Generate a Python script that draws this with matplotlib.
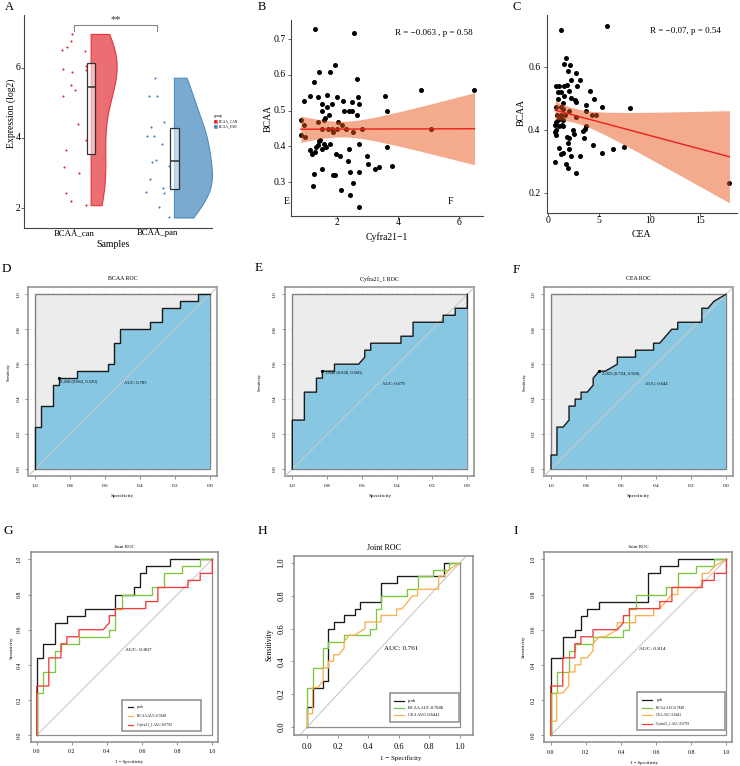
import numpy as np
import matplotlib
matplotlib.use('Agg')
import matplotlib.pyplot as plt
import matplotlib.transforms as mtrans
from matplotlib.patches import Patch, Polygon, Rectangle
from matplotlib.lines import Line2D

plt.rcParams['font.family'] = ['Liberation Serif', 'DejaVu Serif']

# ======================= DATA =======================
# Panel A
a_categories = ['BCAA_can', 'BCAA_pan']
a_legend_labels = ['BCAA_CAN', 'BCAA_PAN']
can_x = [0.976, 0.964, 0.92, 0.852, 1.136, 1.144, 1.144, 0.872, 0.98, 0.96,
         1.012, 0.872, 1.048, 1.144, 0.90, 0.88, 1.056, 0.904, 0.964, 1.144]
can_y = [6.97, 6.78, 6.59, 6.50, 6.47, 6.05, 5.95, 5.98, 5.88, 5.52,
         5.38, 5.19, 4.40, 3.94, 3.66, 3.18, 3.00, 2.42, 2.19, 2.08]
pan_x = [1.976, 1.90, 1.993, 2.077, 1.921, 1.873, 1.957, 2.053, 1.985, 1.933,
         2.144, 1.912, 2.149, 2.065, 1.861, 2.084, 2.02, 2.137]
pan_y = [5.72, 5.19, 5.19, 4.45, 4.30, 4.07, 4.05, 3.84, 3.38, 3.32,
         3.19, 2.83, 2.64, 2.56, 2.45, 2.42, 2.02, 1.73]
box_q1 = [3.55, 2.55]
box_med = [5.45, 3.35]
box_q3 = [6.15, 4.28]
a_yticks = [2, 4, 6]
sig_label = '**'

# Panel B
cyfra = [1.27, 2.54, 1.93, 1.40, 1.75, 1.23, 2.63, 0.90, 1.09, 1.36,
         1.66, 1.99, 1.51, 1.81, 1.67, 2.20, 2.49, 2.68, 2.71, 1.49,
         2.22, 2.39, 2.49, 2.63, 1.73, 3.64, 3.58, 1.61, 1.56, 0.80,
         0.91, 1.38, 2.02, 2.15, 1.49, 1.68, 1.84, 1.98, 2.30, 2.82,
         5.07, 1.85, 2.52, 0.81, 0.93, 1.44, 1.40, 1.35, 1.30, 1.57,
         1.76, 1.62, 1.51, 1.10, 1.26, 1.17, 2.71, 2.38, 3.62, 1.96,
         2.09, 2.97, 2.34, 3.02, 3.79, 3.23, 3.37, 1.49, 1.22, 1.86,
         1.92, 2.42, 2.72, 2.51, 1.21, 2.12, 2.43, 2.72, 6.50, 4.76]
bcaa_b = [0.729, 0.718, 0.629, 0.607, 0.609, 0.579, 0.589, 0.528, 0.541, 0.538,
          0.543, 0.538, 0.520, 0.520, 0.509, 0.526, 0.524, 0.538, 0.520, 0.498,
          0.499, 0.498, 0.498, 0.489, 0.488, 0.499, 0.540, 0.480, 0.475, 0.473,
          0.459, 0.468, 0.467, 0.459, 0.450, 0.450, 0.450, 0.450, 0.450, 0.450,
          0.450, 0.440, 0.439, 0.431, 0.427, 0.419, 0.416, 0.404, 0.398, 0.408,
          0.408, 0.399, 0.394, 0.390, 0.385, 0.379, 0.408, 0.393, 0.399, 0.379,
          0.374, 0.373, 0.358, 0.350, 0.346, 0.338, 0.343, 0.338, 0.322, 0.319,
          0.319, 0.328, 0.328, 0.298, 0.289, 0.279, 0.264, 0.229, 0.558, 0.558]
b_stat = 'R = \u22120.063 , p = 0.58'
b_xticks = [2, 4, 6]
b_yticks = [0.3, 0.4, 0.5, 0.6, 0.7]

# Panel C
cea = [1.34, 5.82, 1.80, 1.57, 2.16, 1.96, 2.78, 3.17, 2.29, 1.86,
       1.63, 1.11, 0.78, 0.98, 1.34, 2.12, 2.88, 4.18, 1.60, 0.98,
       2.25, 2.65, 2.75, 4.51, 1.54, 5.36, 8.04, 3.79, 1.34, 1.50,
       0.85, 2.09, 3.79, 0.95, 1.34, 1.73, 4.35, 4.77, 2.81, 1.31,
       1.01, 1.50, 0.82, 1.37, 0.72, 1.08, 1.54, 3.79, 3.63, 2.52,
       3.46, 2.58, 0.78, 0.85, 0.75, 1.86, 2.09, 3.53, 1.96, 4.41,
       1.11, 2.09, 6.44, 7.45, 5.33, 1.50, 1.27, 2.32, 3.20, 0.75,
       1.76, 1.99, 2.81, 17.84]
bcaa_c = [0.719, 0.729, 0.629, 0.609, 0.608, 0.589, 0.580, 0.559, 0.559, 0.543,
          0.540, 0.541, 0.540, 0.522, 0.522, 0.524, 0.540, 0.525, 0.509, 0.499,
          0.501, 0.496, 0.491, 0.499, 0.487, 0.474, 0.469, 0.479, 0.475, 0.468,
          0.475, 0.460, 0.460, 0.448, 0.448, 0.448, 0.448, 0.448, 0.441, 0.438,
          0.431, 0.433, 0.425, 0.417, 0.417, 0.412, 0.412, 0.412, 0.404, 0.401,
          0.397, 0.389, 0.400, 0.385, 0.393, 0.379, 0.376, 0.377, 0.360, 0.352,
          0.344, 0.340, 0.340, 0.347, 0.329, 0.329, 0.326, 0.320, 0.320, 0.300,
          0.292, 0.282, 0.265, 0.232]
c_stat = 'R = \u22120.07, p = 0.54'
c_xticks = [0, 5, 10, 15]
c_yticks = [0.2, 0.4, 0.6]

# ROC curves (false positive rate, true positive rate)
roc_ticks = [0.0, 0.2, 0.4, 0.6, 0.8, 1.0]
bcaa_fpr = [0, 0, 0.034, 0.034, 0.103, 0.103, 0.138, 0.138, 0.241, 0.241, 0.414, 0.414, 0.448,
            0.448, 0.483, 0.483, 0.655, 0.655, 0.724, 0.724, 0.828, 0.828, 0.931, 0.931, 1.0]
bcaa_tpr = [0, 0.24, 0.24, 0.36, 0.36, 0.48, 0.48, 0.52, 0.52, 0.56, 0.56, 0.60, 0.60,
            0.72, 0.72, 0.80, 0.80, 0.84, 0.84, 0.92, 0.92, 0.96, 0.96, 1.0, 1.0]
cyfra_fpr = [0, 0, 0.069, 0.069, 0.138, 0.138, 0.172, 0.172, 0.241, 0.241, 0.379, 0.414, 0.414,
             0.448, 0.448, 0.621, 0.621, 0.690, 0.690, 0.862, 0.862, 0.931, 0.931, 1.0, 1.0]
cyfra_tpr = [0, 0.28, 0.28, 0.44, 0.44, 0.52, 0.52, 0.56, 0.56, 0.60, 0.60, 0.64, 0.68,
             0.68, 0.72, 0.72, 0.76, 0.76, 0.84, 0.84, 0.88, 0.88, 0.92, 0.92, 1.0]
cea_fpr = [0, 0, 0.034, 0.034, 0.069, 0.103, 0.103, 0.138, 0.138, 0.172, 0.172, 0.207, 0.241,
           0.241, 0.276, 0.310, 0.379, 0.379, 0.483, 0.483, 0.586, 0.586, 0.621, 0.690, 0.724,
           0.724, 0.862, 0.862, 0.897, 0.931, 1.0]
cea_tpr = [0, 0.08, 0.08, 0.24, 0.24, 0.28, 0.36, 0.36, 0.40, 0.40, 0.44, 0.44, 0.48,
           0.52, 0.56, 0.56, 0.60, 0.64, 0.64, 0.68, 0.68, 0.72, 0.72, 0.80, 0.80,
           0.84, 0.84, 0.92, 0.92, 0.96, 1.0]
jointG_fpr = [0, 0, 0.034, 0.034, 0.103, 0.103, 0.172, 0.172, 0.276, 0.276, 0.448, 0.448, 0.552,
              0.552, 0.586, 0.586, 0.621, 0.621, 0.759, 0.759, 1.0]
jointG_tpr = [0, 0.44, 0.44, 0.52, 0.52, 0.64, 0.64, 0.68, 0.68, 0.72, 0.72, 0.80, 0.80,
              0.84, 0.84, 0.92, 0.92, 0.96, 0.96, 1.0, 1.0]
jointH_fpr = [0, 0, 0.034, 0.034, 0.103, 0.103, 0.138, 0.138, 0.172, 0.172, 0.241, 0.241, 0.310,
              0.310, 0.345, 0.345, 0.483, 0.483, 0.586, 0.586, 0.897, 0.897, 1.0]
jointH_tpr = [0, 0.12, 0.12, 0.24, 0.24, 0.28, 0.28, 0.60, 0.60, 0.64, 0.64, 0.68, 0.68,
              0.72, 0.72, 0.76, 0.76, 0.88, 0.88, 0.92, 0.92, 1.0, 1.0]
jointI_fpr = [0, 0, 0.069, 0.069, 0.138, 0.138, 0.172, 0.172, 0.207, 0.207, 0.276, 0.276, 0.552,
              0.552, 0.621, 0.621, 0.724, 0.724, 1.0]
jointI_tpr = [0, 0.44, 0.44, 0.56, 0.56, 0.60, 0.60, 0.68, 0.68, 0.72, 0.72, 0.76, 0.76,
              0.92, 0.92, 0.96, 0.96, 1.0, 1.0]

single_titles = ['BCAA ROC', 'Cyfra21_1 ROC', 'CEA ROC']
thr_labels = ['0.450 (0.862, 0.520)', '1.840 (0.828, 0.560)', '2.025 (0.724, 0.560)']
thr_spec = [0.862, 0.828, 0.724]
thr_sens = [0.520, 0.560, 0.560]
single_auc = ['AUC: 0.785', 'AUC: 0.679', 'AUC: 0.644']
joint_auc = ['AUC: 0.807', 'AUC: 0.761', 'AUC: 0.814']
legG_labels = ['prob', 'BCAA AUC:0.7848', 'Cyfra21_1 AUC:0.6793']
legH_labels = ['prob', 'BCAA AUC:0.7848', 'CEA AUC:0.6441']
legI_labels = ['prob', 'BCAA AUC:0.7848', 'CEA AUC:0.6441', 'Cyfra21_1 AUC:0.6793']

# ======================= STYLE / LAYOUT =======================
W, H = 740, 766
fig = plt.figure(figsize=(7.4, 7.66), dpi=100)

C_BLACK = '#1a1a1a'
C_GREEN = '#7DC740'
C_ORANGE = '#FBB04E'
C_RED = '#F03C3C'
FRAME = '#8c8c8c'


def add_ax(x0, y0, x1, y1):
    return fig.add_axes([x0 / W, 1 - y1 / H, (x1 - x0) / W, (y1 - y0) / H])


def ptext(x, y, s, **kw):
    kw.setdefault('ha', 'center')
    kw.setdefault('va', 'center')
    fig.text(x / W, 1 - y / H, s, **kw)


def xtick_labels(ax, ticks, labels, y_px, fs):
    tr = mtrans.blended_transform_factory(ax.transData, fig.transFigure)
    for t, l in zip(ticks, labels):
        ax.text(t, 1 - y_px / H, l, transform=tr, ha='center', va='center',
                fontsize=fs, clip_on=False)


def ytick_labels(ax, ticks, labels, x_px, fs, rotation=0, ha='center'):
    tr = mtrans.blended_transform_factory(fig.transFigure, ax.transData)
    for t, l in zip(ticks, labels):
        ax.text(x_px / W, t, l, transform=tr, ha=ha, va='center',
                fontsize=fs, rotation=rotation, clip_on=False)


# ---------------- Panel A ----------------
axA = add_ax(24, 15, 212, 228)
axA.set_xlim(0.4, 2.657)
axA.set_ylim(1.43, 7.51)
vp = axA.violinplot([can_y, pan_y], positions=[1.2, 2.2], widths=[0.624, 0.912],
                    side='high', showextrema=False)
for body, fc, ec in zip(vp['bodies'], ['#EB6E72', '#7AAAD0'], ['#E0353A', '#4F8CC0']):
    body.set_facecolor(fc)
    body.set_edgecolor(ec)
    body.set_alpha(1)
    body.set_linewidth(0.8)
stats = [dict(med=m, q1=a, q3=b, whislo=a, whishi=b)
         for m, a, b in zip(box_med, box_q1, box_q3)]
axA.bxp(stats, positions=[1.205, 2.205], widths=0.105, showfliers=False,
        showcaps=False, patch_artist=True,
        boxprops=dict(facecolor=(1, 1, 1, 0.55), edgecolor='#333333', linewidth=0.9),
        medianprops=dict(color='#333333', linewidth=1.1),
        whiskerprops=dict(linewidth=0))
axA.scatter(can_x, can_y, s=2.2, color='#E41A1C', zorder=4, linewidths=0)
axA.scatter(pan_x, pan_y, s=2.2, color='#377EB8', zorder=4, linewidths=0)
axA.plot([1, 1, 2, 2], [7.04, 7.22, 7.22, 7.04], color='#888888', lw=0.8)
axA.text(1.5, 7.24, sig_label, ha='center', va='bottom', fontsize=7.5, color='#333333')
for s in ['top', 'right']:
    axA.spines[s].set_visible(False)
for s in ['left', 'bottom']:
    axA.spines[s].set_color('#444444')
    axA.spines[s].set_linewidth(0.8)
axA.set_xticks([1, 2])
axA.set_yticks(a_yticks)
axA.tick_params(labelbottom=False, labelleft=False, length=2.5, width=0.6, color='#444444')
xtick_labels(axA, [1, 2], a_categories, 233.3, 6.3)
ytick_labels(axA, a_yticks, [str(t) for t in a_yticks], 20.5, 7, ha='right')
ptext(113, 244.5, 'Samples', fontsize=7)
ptext(11.5, 113, 'Expression (log2)', fontsize=7, rotation=90)
handles = [(Patch(facecolor='#EB6E72', edgecolor='#E0353A', lw=0.4),
            Line2D([], [], marker='o', ls='', color='#E41A1C', ms=1)),
           (Patch(facecolor='#7AAAD0', edgecolor='#4F8CC0', lw=0.4),
            Line2D([], [], marker='o', ls='', color='#377EB8', ms=1))]
leg = axA.legend(handles, a_legend_labels, title='group', fontsize=2.6, title_fontsize=2.8,
                 loc='center left', bbox_to_anchor=(0.995, 0.5), frameon=False,
                 handlelength=1.0, handleheight=1.0, handletextpad=0.4, labelspacing=0.3,
                 borderpad=0.2)
leg._legend_box.align = 'left'
ptext(9, 7, 'A', fontsize=9)


# ---------------- Panels B, C ----------------
def scatter_fit(ax, x, y, xticks, yticks, xtick_y, ytick_x, stat, stat_pos):
    x = np.asarray(x, float)
    y = np.asarray(y, float)
    ax.scatter(x, y, s=13, color='black', zorder=2, linewidths=0)
    slope, icpt = np.polyfit(x, y, 1)
    xs = np.linspace(x.min(), x.max(), 200)
    yhat = icpt + slope * xs
    n = len(x)
    resid = y - (icpt + slope * x)
    s = np.sqrt(np.sum(resid ** 2) / (n - 2))
    sxx = np.sum((x - x.mean()) ** 2)
    se = s * np.sqrt(1.0 / n + (xs - x.mean()) ** 2 / sxx)
    tq = 1.99
    ax.fill_between(xs, yhat - tq * se, yhat + tq * se, color='#E9561C', alpha=0.5,
                    linewidth=0, zorder=3)
    ax.plot(xs, yhat, color='#E8201C', lw=1.0, zorder=4)
    for sname in ['top', 'right']:
        ax.spines[sname].set_visible(False)
    for sname in ['left', 'bottom']:
        ax.spines[sname].set_color('#444444')
        ax.spines[sname].set_linewidth(0.8)
    ax.set_xticks(xticks)
    ax.set_yticks(yticks)
    ax.tick_params(labelbottom=False, labelleft=False, length=2.5, width=0.6, color='#444444')
    xtick_labels(ax, xticks, [str(t) for t in xticks], xtick_y, 7)
    ytick_labels(ax, yticks, [f'{t:.1f}' for t in yticks], ytick_x, 7, ha='right')
    ax.text(stat_pos[0], stat_pos[1], stat, transform=ax.transAxes, ha='center', va='center',
            fontsize=6.5)


axB = add_ax(290.7, 20, 483, 216)
axB.set_xlim(0.47, 6.78)
axB.set_ylim(0.205, 0.754)
scatter_fit(axB, cyfra, bcaa_b, b_xticks, b_yticks, 222.7, 285.5, b_stat, (0.742, 0.932))
ptext(386.7, 237.5, 'Cyfra21\u22121', fontsize=7)
ptext(268.5, 118, 'BCAA', fontsize=7, rotation=90)
ptext(287, 201, 'E', fontsize=7)
ptext(450.7, 201, 'F', fontsize=7)
ptext(262, 7, 'B', fontsize=9)

axC = add_ax(547.3, 15, 736.7, 213.3)
axC.set_xlim(-0.05, 18.56)
axC.set_ylim(0.137, 0.765)
scatter_fit(axC, cea, bcaa_c, c_xticks, c_yticks, 220.7, 540.5, c_stat, (0.727, 0.919))
ptext(641.7, 234.5, 'CEA', fontsize=7)
ptext(521.5, 113, 'BCAA', fontsize=7, rotation=90)
ptext(517, 7, 'C', fontsize=9)


# ---------------- Panels D, E, F ----------------
def frame_style(ax, tick_len=2.0):
    for sp in ax.spines.values():
        sp.set_color(FRAME)
        sp.set_linewidth(1.1)
    ax.set_xticks(roc_ticks)
    ax.set_yticks(roc_ticks)
    ax.tick_params(labelbottom=False, labelleft=False, length=tick_len, width=0.5,
                   color='#666666', direction='out')


def single_roc(box, fpr, tpr, title, thr_lab, ts, tsens, thr_txt_pos, auc_lab, auc_pos,
               ytick_x, ylab_pos, xlab_pos, letter, letter_pos):
    ax = add_ax(*box)
    ax.set_xlim(1.04, -0.04)
    ax.set_ylim(-0.04, 1.04)
    frame_style(ax)
    for g in [0.1, 0.2, 0.3, 0.4, 0.5, 0.6, 0.7, 0.8, 0.9]:
        ax.axvline(g, color='#EDE6C4', lw=0.5, ls=(0, (1.5, 2)), zorder=0)
    for g in [0.2, 0.4, 0.6, 0.8]:
        ax.axhline(g, color='#F4C6C6', lw=0.5, ls=(0, (1.5, 2)), zorder=0)
    ax.add_patch(Polygon([(1, 0), (1, 1), (0, 1), (0, 0)], closed=True,
                         facecolor='#ECECEC', edgecolor='#808080', lw=1.0, zorder=1))
    spec = 1 - np.asarray(fpr)
    sens = np.asarray(tpr)
    verts = list(zip(spec, sens)) + [(0, 0)]
    ax.add_patch(Polygon(verts, closed=True, facecolor='#88C7E2', edgecolor='none', zorder=2))
    ax.plot([1.06, -0.06], [-0.06, 1.06], color='#C9C9C9', lw=0.8, zorder=3)
    ax.plot(spec, sens, color=C_BLACK, lw=1.0, zorder=4)
    ax.plot([ts], [tsens], 'o', ms=1.3, color='black', zorder=5)
    ax.text(thr_txt_pos[0], thr_txt_pos[1], thr_lab, ha='left', va='center', fontsize=3.3, zorder=6)
    ax.text(auc_pos[0], auc_pos[1], auc_lab, ha='center', va='center', fontsize=3.3, zorder=6)
    xtick_labels(ax, roc_ticks, [f'{t:.1f}' for t in roc_ticks], 486, 3.8)
    ytick_labels(ax, roc_ticks, [f'{t:.1f}' for t in roc_ticks], ytick_x, 3.8, rotation=90)
    cx = (box[0] + box[2]) / 2
    ptext(cx, 279, title, fontsize=4.2)
    ptext(xlab_pos[0], xlab_pos[1], 'Specificity', fontsize=3.8)
    ptext(ylab_pos[0], ylab_pos[1], 'Sensitivity', fontsize=3.1, rotation=90)
    ptext(letter_pos[0], letter_pos[1], letter, fontsize=9.5)
    return ax


single_roc((28.3, 287.3, 217.3, 476), bcaa_fpr, bcaa_tpr, single_titles[0], thr_labels[0],
           thr_spec[0], thr_sens[0], (0.857, 0.50), single_auc[0], (0.43, 0.49),
           18.3, (9, 372), (122.7, 496), 'D', (6, 269))
single_roc((285.3, 287.3, 474.3, 476), cyfra_fpr, cyfra_tpr, single_titles[1], thr_labels[1],
           thr_spec[1], thr_sens[1], (0.813, 0.548), single_auc[1], (0.42, 0.487),
           275, (260, 381.7), (379.8, 496), 'E', (259, 268))
single_roc((544, 287.3, 733, 476), cea_fpr, cea_tpr, single_titles[2], thr_labels[2],
           thr_spec[2], thr_sens[2], (0.707, 0.544), single_auc[2], (0.396, 0.487),
           533.3, (525, 381.7), (638.5, 496), 'F', (516.7, 270))


# ---------------- Panels G, H, I ----------------
def joint_roc(box, xlim, ylim, curves, colors, auc_lab, auc_pos, auc_fs, title_y, title_fs,
              tick_fs, xtick_y, ytick_x, xlab_pos, ylab_pos, lab_fs, ylab_fs, leg_box, leg_y,
              leg_line_x, leg_text_x, leg_labels, leg_colors, leg_fs, letter, letter_pos,
              diag_ext=False):
    ax = add_ax(*box)
    ax.set_xlim(*xlim)
    ax.set_ylim(*ylim)
    frame_style(ax, tick_len=2.2)
    if diag_ext:
        ax.plot([-0.2, 1.2], [-0.2, 1.2], color='#C9C9C9', lw=0.8, zorder=1)
    else:
        ax.plot([0, 1], [0, 1], color='#C9C9C9', lw=0.8, zorder=1)
    ax.plot([0, 1, 1], [0, 0, 1], color='#8f8f8f', lw=0.9, zorder=1)
    for (fx, ty), col in zip(curves, colors):
        ax.plot(fx, ty, color=col, lw=0.95, zorder=3)
    ax.text(auc_pos[0], auc_pos[1], auc_lab, ha='center', va='center', fontsize=auc_fs)
    x0, x1, y0, y1 = leg_box
    ax.add_patch(Rectangle((x0, y0), x1 - x0, y1 - y0, fill=True, facecolor='white',
                           edgecolor=FRAME, lw=1.1, zorder=5))
    for yy, lab, col in zip(leg_y, leg_labels, leg_colors):
        ax.plot(leg_line_x, [yy, yy], color=col, lw=0.9, zorder=6)
        ax.text(leg_text_x, yy, lab, ha='left', va='center', fontsize=leg_fs, zorder=6)
    xtick_labels(ax, roc_ticks, [f'{t:.1f}' for t in roc_ticks], xtick_y, tick_fs)
    ytick_labels(ax, roc_ticks, [f'{t:.1f}' for t in roc_ticks], ytick_x, tick_fs, rotation=90)
    ptext((box[0] + box[2]) / 2, title_y, 'Joint ROC', fontsize=title_fs)
    ptext(xlab_pos[0], xlab_pos[1], '1 \u2212 Specificity', fontsize=lab_fs)
    ptext(ylab_pos[0], ylab_pos[1], 'Sensitivity', fontsize=ylab_fs, rotation=90)
    ptext(letter_pos[0], letter_pos[1], letter, fontsize=9.5)
    return ax


joint_roc((30.7, 552.3, 218.3, 742.3), (-0.034, 1.034), (-0.04, 1.04),
          [(jointG_fpr, jointG_tpr), (bcaa_fpr, bcaa_tpr), (cyfra_fpr, cyfra_tpr)],
          [C_BLACK, C_GREEN, C_RED], joint_auc[0], (0.579, 0.484), 3.9, 547, 3.5,
          4.2, 751.7, 19.3, (129, 761.7), (11.7, 648), 3.4, 3.8,
          (0.488, 0.935, 0.025, 0.203), [0.158, 0.108, 0.061], [0.518, 0.55], 0.569,
          legG_labels, [C_BLACK, C_ORANGE, C_RED], 2.6, 'G', (8.3, 530.7))

joint_roc((294, 555.7, 473.3, 735), (-0.088, 1.09), (-0.05, 1.045),
          [(jointH_fpr, jointH_tpr), (bcaa_fpr, bcaa_tpr), (cea_fpr, cea_tpr)],
          [C_BLACK, C_GREEN, C_ORANGE], joint_auc[1], (0.616, 0.48), 5.0, 548.5, 5.8,
          6.0, 746.7, 281.7, (400.3, 758.3), (269.3, 645), 5.0, 5.5,
          (0.544, 0.993, 0.027, 0.204), [0.159, 0.116, 0.072], [0.572, 0.632], 0.658,
          legH_labels, [C_BLACK, C_GREEN, C_ORANGE], 3.2, 'H', (262.7, 530.7), diag_ext=True)

joint_roc((544.3, 552.3, 731.7, 742.3), (-0.036, 1.03), (-0.04, 1.04),
          [(jointI_fpr, jointI_tpr), (bcaa_fpr, bcaa_tpr), (cea_fpr, cea_tpr),
           (cyfra_fpr, cyfra_tpr)],
          [C_BLACK, C_GREEN, C_ORANGE, C_RED], joint_auc[2], (0.578, 0.488), 3.9, 546.5, 3.5,
          4.2, 752.7, 533.3, (644, 762.7), (523.3, 646.7), 3.4, 3.8,
          (0.489, 0.994, 0.028, 0.247), [0.203, 0.157, 0.114, 0.066], [0.517, 0.574], 0.602,
          legI_labels, [C_BLACK, C_GREEN, C_ORANGE, C_RED], 2.4, 'I', (515.7, 530.7))

fig.savefig('out.png', dpi=100)
